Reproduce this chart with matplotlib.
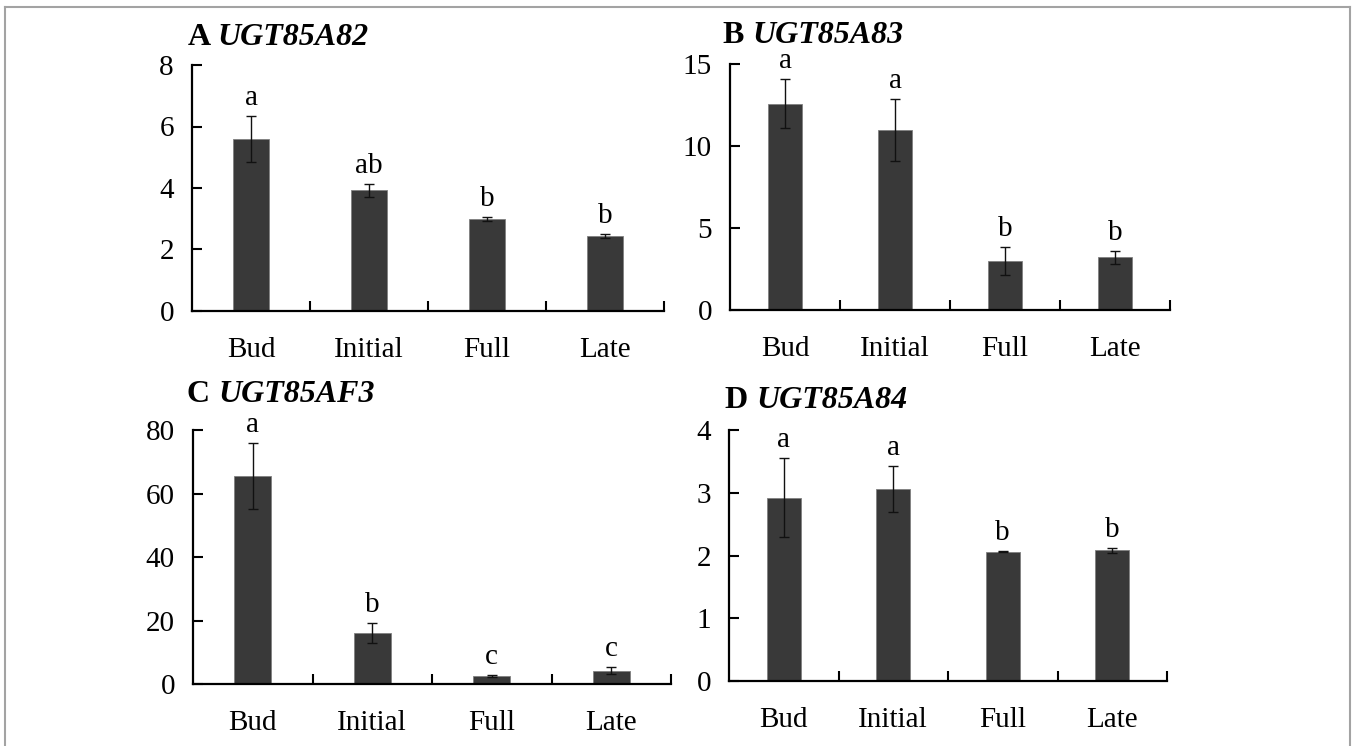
import numpy as np
import matplotlib
matplotlib.use("Agg")
import matplotlib.pyplot as plt
from matplotlib.lines import Line2D

plt.rcParams['font.family'] = ['Liberation Serif', 'DejaVu Serif']

stages = ["Bud", "Initial", "Full", "Late"]

# relative expression (mean, SE) and significance letters per gene
a_mean = [5.58, 3.93, 2.99, 2.44]
a_err = [0.75, 0.21, 0.07, 0.07]
a_sig = ["a", "ab", "b", "b"]

b_mean = [12.6, 10.98, 2.99, 3.21]
b_err = [1.5, 1.9, 0.87, 0.4]
b_sig = ["a", "a", "b", "b"]

c_mean = [65.5, 16.2, 2.6, 4.2]
c_err = [10.5, 3.2, 0.3, 1.1]
c_sig = ["a", "b", "c", "c"]

d_mean = [2.92, 3.06, 2.06, 2.08]
d_err = [0.63, 0.37, 0.005, 0.04]
d_sig = ["a", "a", "b", "b"]

W, H = 1352, 746
fig = plt.figure(figsize=(W / 100, H / 100), dpi=100)

# thin frame round the figure (open at the bottom)
frame = dict(color="#a3a3a3", lw=1.5, transform=fig.transFigure)
fig.add_artist(Line2D([4.5 / W, 4.5 / W], [0, 1 - 6.5 / H], **frame))
fig.add_artist(Line2D([4.5 / W, 1349.5 / W], [1 - 6.5 / H, 1 - 6.5 / H], **frame))
fig.add_artist(Line2D([1349.5 / W, 1349.5 / W], [0, 1 - 6.5 / H], **frame))

FS = 21


def panel(px_left, px_right, px_top, px_zero, ymax, yticks, mean, err, sig,
          letter, gene, title_x, title_base):
    ax = fig.add_axes([px_left / W, 1 - px_zero / H,
                       (px_right - px_left) / W, (px_zero - px_top) / H])
    x = np.arange(len(stages))
    ax.bar(x, mean, width=0.31, color="#393939", edgecolor="#808080",
           linewidth=0.6, zorder=2)
    ax.errorbar(x, mean, yerr=err, fmt="none", ecolor="#111111",
                elinewidth=1.0, capsize=3.5, capthick=1.0, zorder=3)
    for xi, m, e, s in zip(x, mean, err, sig):
        ax.annotate(s, (xi, m + e), xytext=(0, 8), textcoords="offset points",
                    ha="center", va="baseline", fontsize=FS)

    ax.set_xlim(-0.5, 3.5)
    ax.set_ylim(0, ymax)
    ax.set_yticks(yticks)
    # major ticks mark the category boundaries, minor ones carry the names
    ax.set_xticks([0.5, 1.5, 2.5, 3.5])
    ax.set_xticklabels([])
    ax.set_xticks(x, minor=True)
    ax.set_xticklabels(stages, minor=True, fontsize=FS)
    ax.tick_params(axis="x", which="major", direction="in", length=7, width=1.5)
    ax.tick_params(axis="x", which="minor", length=0, pad=18.5)
    ax.tick_params(axis="y", direction="in", length=7, width=1.5,
                   labelsize=FS, pad=13)
    for side in ("top", "right"):
        ax.spines[side].set_visible(False)
    for side in ("left", "bottom"):
        ax.spines[side].set_linewidth(1.6)

    t = fig.text(title_x / W, 1 - title_base / H, letter + " ",
                 fontsize=23, fontweight="bold", va="baseline", ha="left")
    fig.add_artist(plt.Annotation(gene, xy=(1, 0), xycoords=t,
                                  fontsize=23, fontweight="bold",
                                  style="italic", va="bottom", ha="left"))
    return ax


panel(192, 664, 65, 311, 8, [0, 2, 4, 6, 8], a_mean, a_err, a_sig,
      "A", "UGT85A82", 188, 45)
panel(730, 1170, 64.3, 310, 15, [0, 5, 10, 15], b_mean, b_err, b_sig,
      "B", "UGT85A83", 723, 43)
panel(193, 671, 430, 684.3, 80, [0, 20, 40, 60, 80], c_mean, c_err, c_sig,
      "C", "UGT85AF3", 187, 402)
panel(729, 1167, 430, 681, 4, [0, 1, 2, 3, 4], d_mean, d_err, d_sig,
      "D", "UGT85A84", 725, 408)

fig.savefig("out.png", dpi=100)
